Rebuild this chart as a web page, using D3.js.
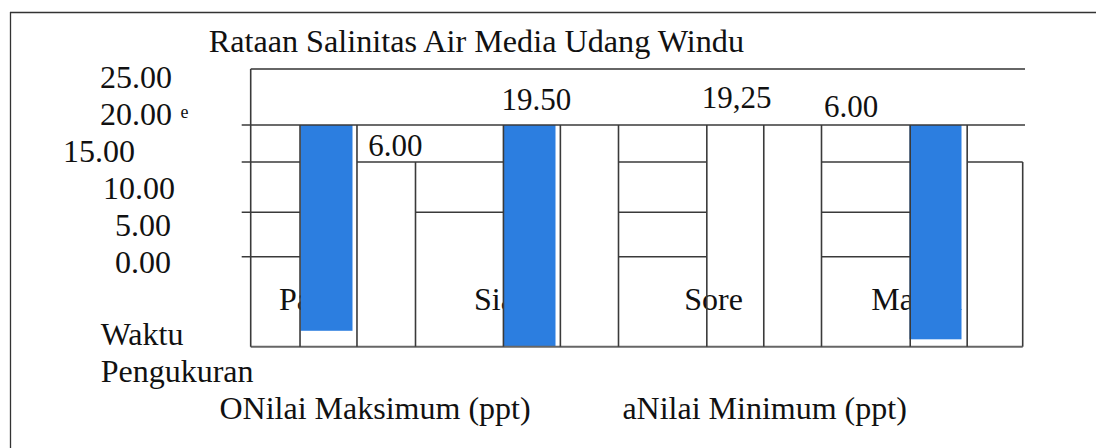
<!DOCTYPE html>
<html>
<head>
<meta charset="utf-8">
<script src="https://cdn.jsdelivr.net/npm/d3@7/dist/d3.min.js"></script>
<style>
  html, body { margin: 0; padding: 0; background: #fff; overflow: hidden; width: 1096px; height: 448px; }
  svg { display: block; }
  text { font-family: "Liberation Serif", "Times New Roman", serif; fill: #111; }
</style>
</head>
<body>
<svg id="chart" width="1096" height="448"></svg>
<script>
// ---------------- data ----------------
const title = "Rataan Salinitas Air Media Udang Windu";
const categories = ["Pagi", "Siang", "Sore", "Malam"];
const maxValues = [18.1, 19.5, null, 18.85];          // blue bars (Nilai Maksimum)
const valueLabels = ["6.00", "19.50", "19,25", "6.00"];
const tickValues = [25, 20, 15, 10, 5, 0];
const tickLabels = ["25.00", "20.00", "15.00", "10.00", "5.00", "0.00"];
const gridValues = [20, 15, 8.2, 2.2];
const axisTitle = ["Waktu", "Pengukuran"];
const legendLabels = ["ONilai Maksimum (ppt)", "aNilai Minimum (ppt)"];

// ---------------- layout ----------------
const svg = d3.select("#chart");
const FS = 32;
const lineColor = "#3a3a3a";
const blue = "#2c7ee0";

const x = d3.scaleBand().domain(categories).range([225, 1037])
  .paddingInner(0.75).paddingOuter(0.375);
const cx = c => x(c) + x.bandwidth() / 2;
const xo = d3.scaleBand().domain(categories).range([226.8, 1040.4])
  .paddingInner(0.72).paddingOuter(0.36);
const y = d3.scaleLinear().domain([0, 25]).range([273, 88]);
const hang = d3.scaleLinear().domain([0, 19.5]).range([0, 221.7]);

const yTop = y(25) - 19;
const yBottom = y(0) + 73.7;
const PL = cx("Pagi") - 75.8;
const PR = cx("Malam") + 87.2;
const TS = PL - 9;
const TR = PR + 2.3;
const BH = 26;      // bar half width
const DV = 89;      // divider offset

const L = categories.map(c => xo(c));
const R = categories.map(c => xo(c) + xo.bandwidth());
const D = categories.slice(0, 3).map(c => cx(c) + DV);

// outer frame (only top/left visible)
svg.append("line").attr("x1", 10.5).attr("x2", 10.5).attr("y1", 12).attr("y2", 448)
  .attr("stroke", "#333").attr("stroke-width", 1.3);
svg.append("line").attr("x1", 10).attr("x2", 1096).attr("y1", 12.5).attr("y2", 12.5)
  .attr("stroke", "#333").attr("stroke-width", 1.3);

// title
svg.append("text").attr("x", 208.7).attr("y", 51.7)
  .attr("font-size", 32.2).text(title);

// y tick labels
const tickDx = [0, 0, -37, 3, -1, -1];
svg.append("g").selectAll("text").data(tickValues).join("text")
  .attr("x", (d, i) => 172 + tickDx[i])
  .attr("y", d => y(d))
  .attr("text-anchor", "end")
  .attr("font-size", FS)
  .text((d, i) => tickLabels[i]);
svg.append("text").attr("x", 180.5).attr("y", 117.5)
  .attr("font-size", 18).text("e");

// category labels (partly hidden behind bars)
svg.append("g").selectAll("text").data(categories).join("text")
  .attr("x", c => cx(c) - 19)
  .attr("y", 310)
  .attr("text-anchor", "middle")
  .attr("font-size", FS)
  .text(c => c);

// blue bars
svg.append("g").selectAll("rect")
  .data(categories.map((c, i) => ({ c, v: maxValues[i] })).filter(d => d.v != null))
  .join("rect")
  .attr("x", d => cx(d.c) - BH)
  .attr("y", y(20))
  .attr("width", BH * 2)
  .attr("height", d => Math.min(hang(d.v), yBottom - y(20)))
  .attr("fill", blue);

// horizontal segments [gridIndex, x0, x1]
const hSegs = [
  [0, TS, TR],
  [1, TS, L[0]], [1, R[0], L[1]], [1, D[1], L[2]], [1, D[2], L[3]], [1, R[3], PR],
  [2, TS, L[0]], [2, D[0], L[1]], [2, D[1], L[2]], [2, D[2], L[3]],
  [3, TS, L[0]], [3, D[1], L[2]], [3, D[2], L[3]]
];
const lines = svg.append("g").attr("stroke", lineColor).attr("stroke-width", 1.6);
lines.selectAll("line.h").data(hSegs).join("line").attr("class", "h")
  .attr("x1", d => d[1]).attr("x2", d => d[2])
  .attr("y1", d => y(gridValues[d[0]])).attr("y2", d => y(gridValues[d[0]]));
// top & bottom of plot box
lines.append("line").attr("x1", PL).attr("x2", TR).attr("y1", yTop).attr("y2", yTop).attr("stroke", "#666").attr("stroke-width", 2);
lines.append("line").attr("x1", PL).attr("x2", PR).attr("y1", yBottom).attr("y2", yBottom).attr("stroke", "#666").attr("stroke-width", 2);

// vertical segments [x, yStart]
const vSegs = [[PL, yTop]]
  .concat(L.map(v => [v, y(gridValues[0])]))
  .concat(R.map(v => [v, y(gridValues[0])]))
  .concat([[D[0], y(gridValues[1])], [D[1], y(gridValues[0])], [D[2], y(gridValues[0])], [PR, y(gridValues[1])]]);
lines.selectAll("line.v").data(vSegs).join("line").attr("class", "v")
  .attr("x1", d => d[0]).attr("x2", d => d[0])
  .attr("y1", d => d[1]).attr("y2", yBottom);

// value labels
const labelPos = [[cx("Pagi") + 41.8, y(15.85)], [cx("Siang") - 28, y(22.03)],
                  [cx("Sore") - 30.7, y(22.26)], [cx("Malam") - 111.5, y(21.05)]];
svg.append("g").selectAll("text").data(valueLabels).join("text")
  .attr("x", (d, i) => labelPos[i][0])
  .attr("y", (d, i) => labelPos[i][1])
  .attr("font-size", 31)
  .text(d => d);

// axis title
svg.append("g").selectAll("text").data(axisTitle).join("text")
  .attr("x", 100.7).attr("y", (d, i) => 344.7 + i * 37.6)
  .attr("font-size", FS).text(d => d);

// legend
svg.append("g").selectAll("text").data(legendLabels).join("text")
  .attr("x", (d, i) => i === 0 ? 219.5 : 622.4).attr("y", 419)
  .attr("font-size", FS).text(d => d);
</script>
</body>
</html>
